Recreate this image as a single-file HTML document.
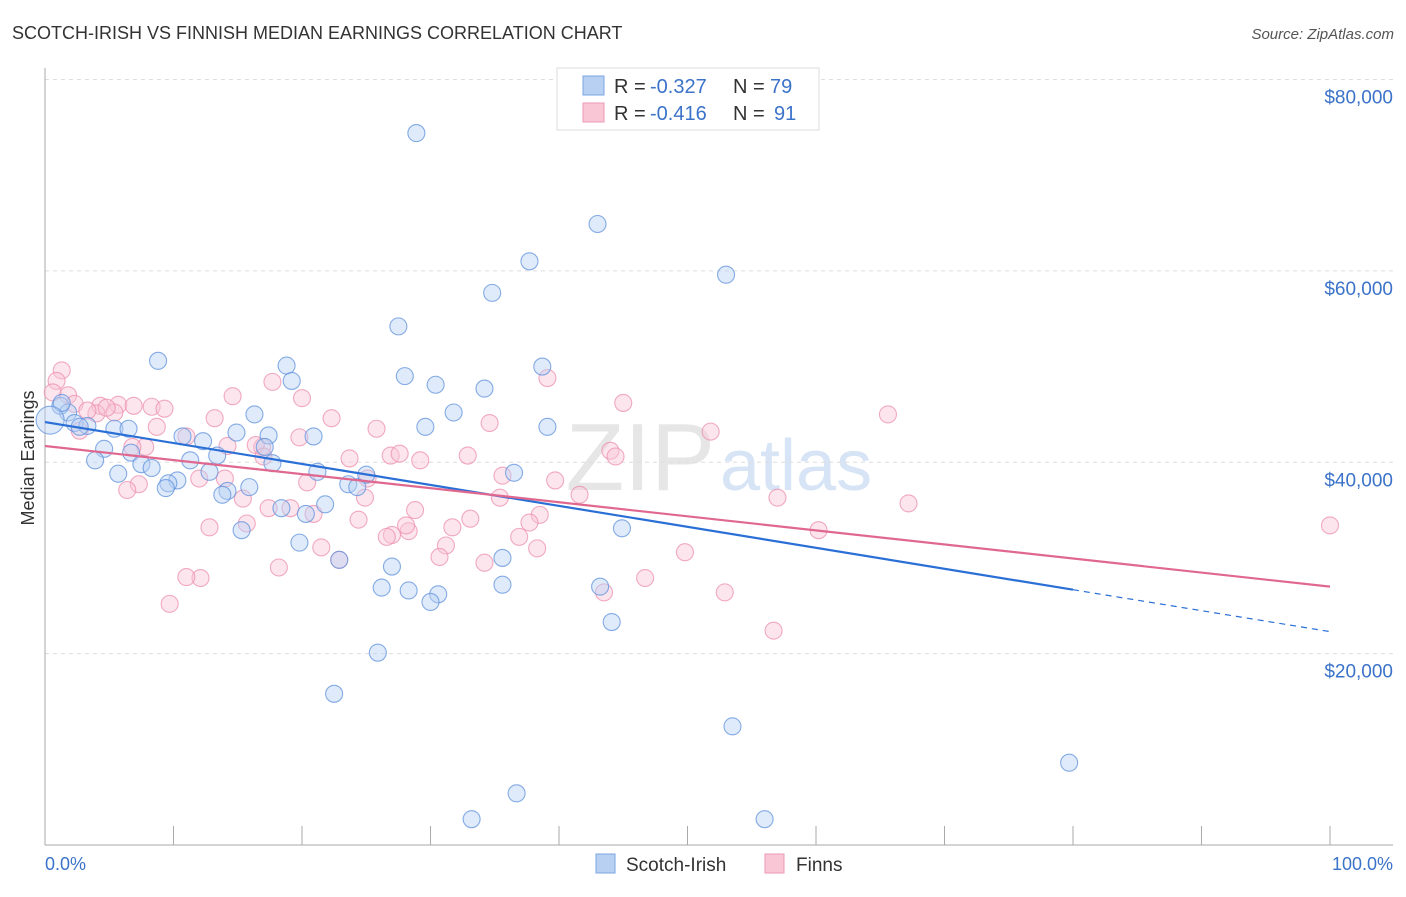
<!DOCTYPE html>
<html><head><meta charset="utf-8"><style>
body{margin:0;background:#fff;font-family:"Liberation Sans",sans-serif}
svg text{font-family:"Liberation Sans",sans-serif}
</style></head><body>
<svg id="chart" width="1406" height="892" xmlns="http://www.w3.org/2000/svg">
<text x="12" y="39" font-size="18" fill="#333">SCOTCH-IRISH VS FINNISH MEDIAN EARNINGS CORRELATION CHART</text>
<text x="1394" y="39" font-size="15" fill="#555" text-anchor="end" font-style="italic">Source: ZipAtlas.com</text>
<text x="715" y="490" font-size="96" fill="#e6e6e6" text-anchor="end" font-family="Liberation Serif">ZIP</text>
<text x="720" y="490" font-size="72" fill="#d6e4f5">atlas</text>
<g id="grid"></g>
<g id="axes"></g>
<g id="pink"></g>
<g id="blue"></g>
<g id="lines"></g>
<text transform="translate(34,458) rotate(-90)" font-size="18" fill="#333" text-anchor="middle">Median Earnings</text>
<text x="45" y="870" font-size="18" fill="#3b73c9">0.0%</text>
<text x="1393" y="870" font-size="18" fill="#3b73c9" text-anchor="end">100.0%</text>
<g>
<rect x="557" y="68" width="262" height="62" fill="#fff" stroke="#ddd"/>
<rect x="583" y="76" width="21" height="19" fill="#b8d1f3" stroke="#7aa5e0"/>
<rect x="583" y="103" width="21" height="19" fill="#f9c6d6" stroke="#ec9ab5"/>
<text x="614" y="93" font-size="20" fill="#333">R =</text>
<text x="650" y="93" font-size="20" fill="#3b73c9">-0.327</text>
<text x="733" y="93" font-size="20" fill="#333">N =</text>
<text x="770" y="93" font-size="20" fill="#3b73c9">79</text>
<text x="614" y="120" font-size="20" fill="#333">R =</text>
<text x="650" y="120" font-size="20" fill="#3b73c9">-0.416</text>
<text x="733" y="120" font-size="20" fill="#333">N =</text>
<text x="774" y="120" font-size="20" fill="#3b73c9">91</text>
</g>
<g>
<rect x="596" y="854" width="19" height="19" fill="#b8d1f3" stroke="#7aa5e0"/>
<text x="626" y="871" font-size="19" fill="#333">Scotch-Irish</text>
<rect x="765" y="854" width="19" height="19" fill="#f9c6d6" stroke="#ec9ab5"/>
<text x="796" y="871" font-size="19" fill="#333">Finns</text>
</g>
</svg>
<script>
const yTicks=[20000,40000,60000,80000];
const yTickLabels=["$20,000","$40,000","$60,000","$80,000"];
const blueX=[28.9,43.0,37.7,53.0,34.8,27.5,8.8,18.8,38.7,19.2,28.0,30.4,34.2,1.2,1.8,16.3,31.8,29.6,39.1,2.3,3.3,5.4,6.5,10.7,14.9,17.4,20.9,12.3,4.6,6.7,3.9,7.5,8.3,11.3,13.4,17.1,17.7,12.8,5.7,10.3,9.6,21.2,36.5,25.0,23.6,24.3,9.4,15.9,14.2,13.8,21.8,18.4,20.3,15.3,44.9,19.8,22.9,35.6,27.0,26.2,28.3,30.6,30.0,35.6,43.2,44.1,25.9,22.5,53.5,79.7,36.7,33.2,56.0,1.3,2.7,0.4];
const blueY=[74400,64900,61000,59600,57700,54200,50600,50100,50000,48500,49000,48100,47700,45900,45200,45000,45200,43700,43700,44100,43800,43500,43500,42700,43100,42800,42700,42200,41400,41000,40200,39800,39400,40200,40700,41600,39900,39000,38800,38100,37800,39000,38900,38700,37700,37400,37300,37400,37000,36600,35600,35200,34600,32900,33100,31600,29800,30000,29100,26900,26600,26200,25400,27200,27000,23300,20100,15800,12400,8600,5400,2700,2700,46200,43700,44400];
const pinkX=[1.3,0.9,0.6,1.8,2.3,4.3,4.0,5.7,6.9,8.3,9.3,5.4,2.7,11.0,14.6,13.2,17.7,19.8,22.3,23.7,25.8,26.9,27.6,29.2,32.9,34.6,39.1,45.0,51.8,65.6,67.2,100,57.0,60.2,52.9,56.7,49.8,46.7,43.5,44.0,44.4,41.6,39.7,38.5,37.7,36.9,38.3,35.6,35.4,34.2,33.1,31.7,31.2,30.7,28.8,28.3,28.1,27.0,26.6,24.9,25.1,24.4,22.9,21.5,20.9,20.4,19.1,18.2,17.4,16.9,16.4,15.4,15.7,14.2,14.0,12.8,12.1,11.0,9.7,12.0,7.8,7.3,6.4,6.8,8.7,3.3,4.8,17.0,20.0];
const pinkY=[49600,48500,47300,47000,46100,45900,45100,46000,45900,45800,45600,45200,43300,42700,46900,44600,48400,42600,44600,40400,43500,40700,40900,40200,40700,44100,48800,46200,43200,45000,35700,33400,36300,32900,26400,22400,30600,27900,26400,41200,40600,36600,38100,34500,33700,32200,31000,38600,36300,29500,34100,33200,31300,30100,35000,32800,33400,32400,32200,36300,38300,34000,29800,31100,34600,37900,35200,29000,35200,41600,41800,36200,33600,41700,38300,33200,27900,28000,25200,38300,41600,37700,37100,41600,43700,45400,45700,40600,46700];
const blueFit=[44200,-21900];
const pinkFit=[41700,-14700];
const NS="http://www.w3.org/2000/svg";
const X0=45,X1=1330,Y0=845,Y80=79.5;
const sx=v=>X0+(X1-X0)*v/100;
const sy=v=>Y0-(Y0-Y80)*v/80000;
function mk(tag,attrs,parent){const e=document.createElementNS(NS,tag);for(const k in attrs)e.setAttribute(k,attrs[k]);document.getElementById(parent).appendChild(e);return e;}
yTicks.forEach((t,i)=>{
  const g=mk('line',{x1:45,x2:1393,y1:sy(t),y2:sy(t),stroke:'#ddd','stroke-dasharray':'4,4'},'grid');
  
  
  const l=mk('text',{x:1393,y:sy(t)+24,'font-size':19,fill:'#3b73c9','text-anchor':'end'},'axes');
  l.textContent=yTickLabels[i];
  
  
});
const ax=mk('line',{x1:45,x2:45,y1:68,y2:845,stroke:'#aaa'},'axes');


const bx=mk('line',{x1:45,x2:1393,y1:845,y2:845,stroke:'#aaa'},'axes');


for(let k=0;k<=10;k++){
  const t=mk('line',{x1:sx(k*10),x2:sx(k*10),y1:826,y2:845,stroke:'#aaa'},'axes');
  
  
}
function pts(xs,ys,g,fill,stroke,name){
  xs.forEach((x,i)=>{
    const big=(name==='scotch-irish-point'&&i===xs.length-1);
    const c=mk('circle',{cx:sx(x),cy:sy(ys[i]),r:big?14:8.5,fill:fill,'fill-opacity':0.45,stroke:stroke,'stroke-opacity':0.75,'stroke-width':1.1},g);
    
    
  });
}
pts(pinkX,pinkY,'pink','#f9c6d6','#ec8fae','finns-point');
pts(blueX,blueY,'blue','#b8d1f3','#5f92dc','scotch-irish-point');
const fy=(f,x)=>f[0]+f[1]*x/100;
const bl=mk('line',{x1:sx(0),y1:sy(fy(blueFit,0)),x2:sx(80),y2:sy(fy(blueFit,80)),stroke:'#2a6fd6','stroke-width':2.2},'lines');


const bd=mk('line',{x1:sx(80),y1:sy(fy(blueFit,80)),x2:sx(100),y2:sy(fy(blueFit,100)),stroke:'#2a6fd6','stroke-width':1.2,'stroke-dasharray':'6,5'},'lines');


const pl=mk('line',{x1:sx(0),y1:sy(fy(pinkFit,0)),x2:sx(100),y2:sy(fy(pinkFit,100)),stroke:'#e0688f','stroke-width':2.2},'lines');


</script>
</body></html>
